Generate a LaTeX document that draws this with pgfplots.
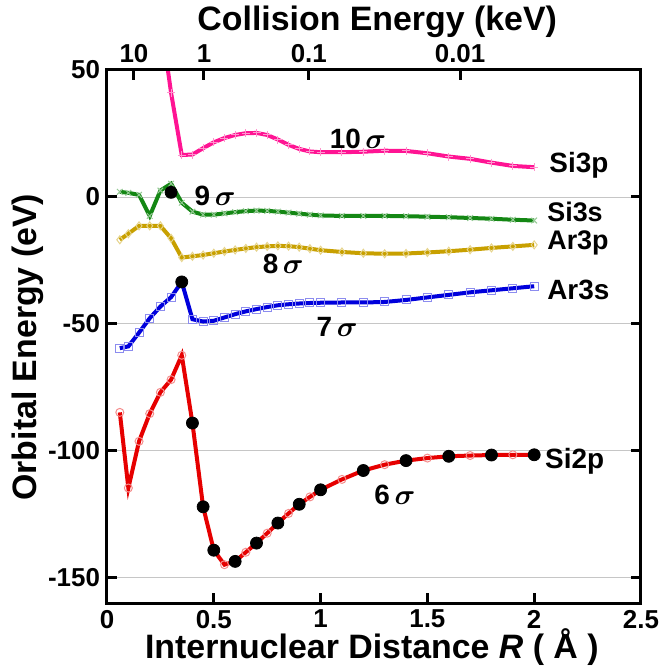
\documentclass[border=0pt]{standalone}
\usepackage{pgfplots}
\pgfplotsset{compat=1.18}
\usepackage{fontspec}
\setmainfont{Liberation Sans}
\definecolor{cmag}{RGB}{255,20,147}
\definecolor{cgreen}{RGB}{20,135,20}
\definecolor{cgold}{RGB}{200,160,0}
\definecolor{cblue}{RGB}{0,0,220}
\definecolor{cred}{RGB}{230,0,0}
\pgfplotsset{
  common/.style={scale only axis, width=267bp, height=266.5bp,
    xmin=0, xmax=2.5, ymin=-160, ymax=50,
    axis line style={line width=1.5bp},
    tick style={line width=1.5bp, black},
    major tick length=5bp, tick align=inside,
    ticklabel style={font=\fontsize{13}{13}\selectfont\bfseries},
    label style={font=\fontsize{17}{17}\selectfont\bfseries},
  },
  curve/.style={#1, line width=2bp, mark size=2bp,
    mark options={draw=#1!45, line width=0.5bp, solid, fill=none}},
}
\begin{document}
\begin{tikzpicture}
\path[use as bounding box] (-53.5bp,-31.5bp) rectangle (276bp,301.5bp);
\begin{axis}[common,
  xtick={0,0.5,1,1.5,2,2.5}, xticklabels={0,0.5,1,1.5,2,2.5}, xtick pos=bottom,
  ytick={-150,-100,-50,0,50}, yticklabels={-150,-100,-50,0,50}, ytick pos=both,
  ymajorgrids, grid style={gray!45, line width=0.4bp},
  xlabel={Internuclear Distance \textit{R} ( Å )},
  xlabel style={at={(axis description cs:0.496,-0.083)}, anchor=center, inner sep=0pt},
  ylabel={Orbital Energy (eV)},
  ylabel style={at={(axis description cs:-0.148,0.48)}, anchor=center},
]
% Si3p (10 sigma)
\addplot[curve=cmag, mark=+] coordinates {
(0.25,71) (0.30,41) (0.35,16.5) (0.40,16.7) (0.45,19.2) (0.50,21.5) (0.55,23.2)
(0.60,24.4) (0.65,25.1) (0.70,25.2) (0.75,24.4) (0.80,22.6) (0.85,20.5) (0.90,18.9)
(0.95,17.9) (1.0,17.6) (1.1,17.6) (1.2,17.8) (1.3,18.2) (1.4,18.1) (1.5,17.2)
(1.6,15.9) (1.7,15.0) (1.8,13.5) (1.9,12.2) (2.0,11.7)};
% Si3s (9 sigma)
\addplot[curve=cgreen, mark=x] coordinates {
(0.06,2.0) (0.10,1.6) (0.15,0.8) (0.20,-7.5) (0.25,2.5) (0.30,5.2) (0.35,-2.3)
(0.40,-5.8) (0.45,-7.0) (0.50,-7.0) (0.55,-6.5) (0.60,-6.0) (0.65,-5.6) (0.70,-5.4)
(0.75,-5.5) (0.80,-5.8) (0.85,-6.2) (0.90,-6.6) (0.95,-7.0) (1.0,-7.3) (1.1,-7.5)
(1.2,-7.5) (1.3,-7.5) (1.4,-7.6) (1.5,-7.8) (1.6,-8.0) (1.7,-8.3) (1.8,-8.6)
(1.9,-9.0) (2.0,-9.3)};
% Ar3p (8 sigma)
\addplot[curve=cgold, mark=diamond] coordinates {
(0.06,-16.9) (0.10,-14.5) (0.15,-11.4) (0.20,-11.4) (0.25,-11.4) (0.30,-16.3)
(0.35,-23.9) (0.40,-23.4) (0.45,-22.9) (0.50,-22.2) (0.55,-21.5) (0.60,-20.9)
(0.65,-20.3) (0.70,-19.8) (0.75,-19.5) (0.80,-19.3) (0.85,-19.4) (0.90,-19.8)
(0.95,-20.4) (1.0,-21.0) (1.1,-21.7) (1.2,-22.2) (1.3,-22.4) (1.4,-22.3)
(1.5,-21.9) (1.6,-21.4) (1.7,-20.8) (1.8,-20.1) (1.9,-19.5) (2.0,-18.9)};
% Ar3s (7 sigma)
\addplot[curve=cblue, mark=square] coordinates {
(0.06,-59.6) (0.10,-58.9) (0.15,-53.5) (0.20,-47.8) (0.25,-43.2) (0.30,-39.5)
(0.35,-33.5) (0.40,-48.2) (0.45,-49.1) (0.50,-48.8) (0.55,-47.5) (0.60,-46.2)
(0.65,-45.1) (0.70,-44.2) (0.75,-43.4) (0.80,-42.7) (0.85,-42.3) (0.90,-42.0)
(0.95,-41.8) (1.0,-41.7) (1.1,-41.6) (1.2,-41.6) (1.3,-41.4) (1.4,-40.6)
(1.5,-39.6) (1.6,-38.6) (1.7,-37.6) (1.8,-36.8) (1.9,-36.0) (2.0,-35.2)};
% Si2p (6 sigma)
\addplot[curve=cred, mark=o] coordinates {
(0.06,-84.9) (0.10,-114.7) (0.15,-96.3) (0.20,-85.4) (0.25,-77.0) (0.30,-72.0)
(0.35,-62.4) (0.40,-89.1) (0.45,-122.1) (0.50,-139.2) (0.55,-144.9) (0.60,-143.6)
(0.65,-140.0) (0.70,-136.4) (0.75,-132.5) (0.80,-128.5) (0.85,-124.7) (0.90,-121.1)
(0.95,-118.2) (1.0,-115.4) (1.1,-111.3) (1.2,-107.8) (1.3,-105.5) (1.4,-103.9)
(1.5,-102.9) (1.6,-102.2) (1.7,-101.9) (1.8,-101.7) (1.9,-101.6) (2.0,-101.6)};
% black dots
\addplot[only marks, mark=*, mark size=3bp, black] coordinates {
(0.30,1.8) (0.35,-33.5) (0.40,-89.1) (0.45,-122.1) (0.50,-139.2) (0.60,-143.6)
(0.70,-136.4) (0.80,-128.5) (0.90,-121.1) (1.0,-115.4) (1.2,-107.8) (1.4,-103.9)
(1.6,-102.2) (1.8,-101.7) (2.0,-101.6)};
\begin{scope}[every node/.style={font=\fontsize{14}{14}\selectfont\bfseries\boldmath, inner sep=0.5bp}]
\node at (axis cs:1.175,22.8) {10\,$\sigma$};
\node at (axis cs:0.506,0.4) {9\,$\sigma$};
\node at (axis cs:0.825,-26.4) {8\,$\sigma$};
\node at (axis cs:1.077,-51.2) {7\,$\sigma$};
\node at (axis cs:1.348,-117.3) {6\,$\sigma$};
\node[anchor=west] at (axis cs:2.065,12.6) {Si3p};
\node[anchor=base west, font=\fontsize{13.5}{13.5}\selectfont\bfseries] at (axis cs:2.055,-9.7) {Si3s};
\node[anchor=base west, font=\fontsize{13.5}{13.5}\selectfont\bfseries] at (axis cs:2.055,-20.9) {Ar3p};
\node[anchor=west] at (axis cs:2.055,-36.6) {Ar3s};
\node[anchor=west] at (axis cs:2.045,-104.3) {Si2p};
\end{scope}
\end{axis}
\begin{axis}[common,
  axis x line*=top, axis y line=none,
  xtick={0.126,0.454,0.945,1.653}, xticklabels={10,1,0.1,0.01},
  xlabel={Collision Energy (keV)},
  xlabel style={at={(axis description cs:0.506,1.09)}, anchor=center},
]
\addplot[draw=none] coordinates {(1,0)};
\end{axis}
\end{tikzpicture}
\end{document}
